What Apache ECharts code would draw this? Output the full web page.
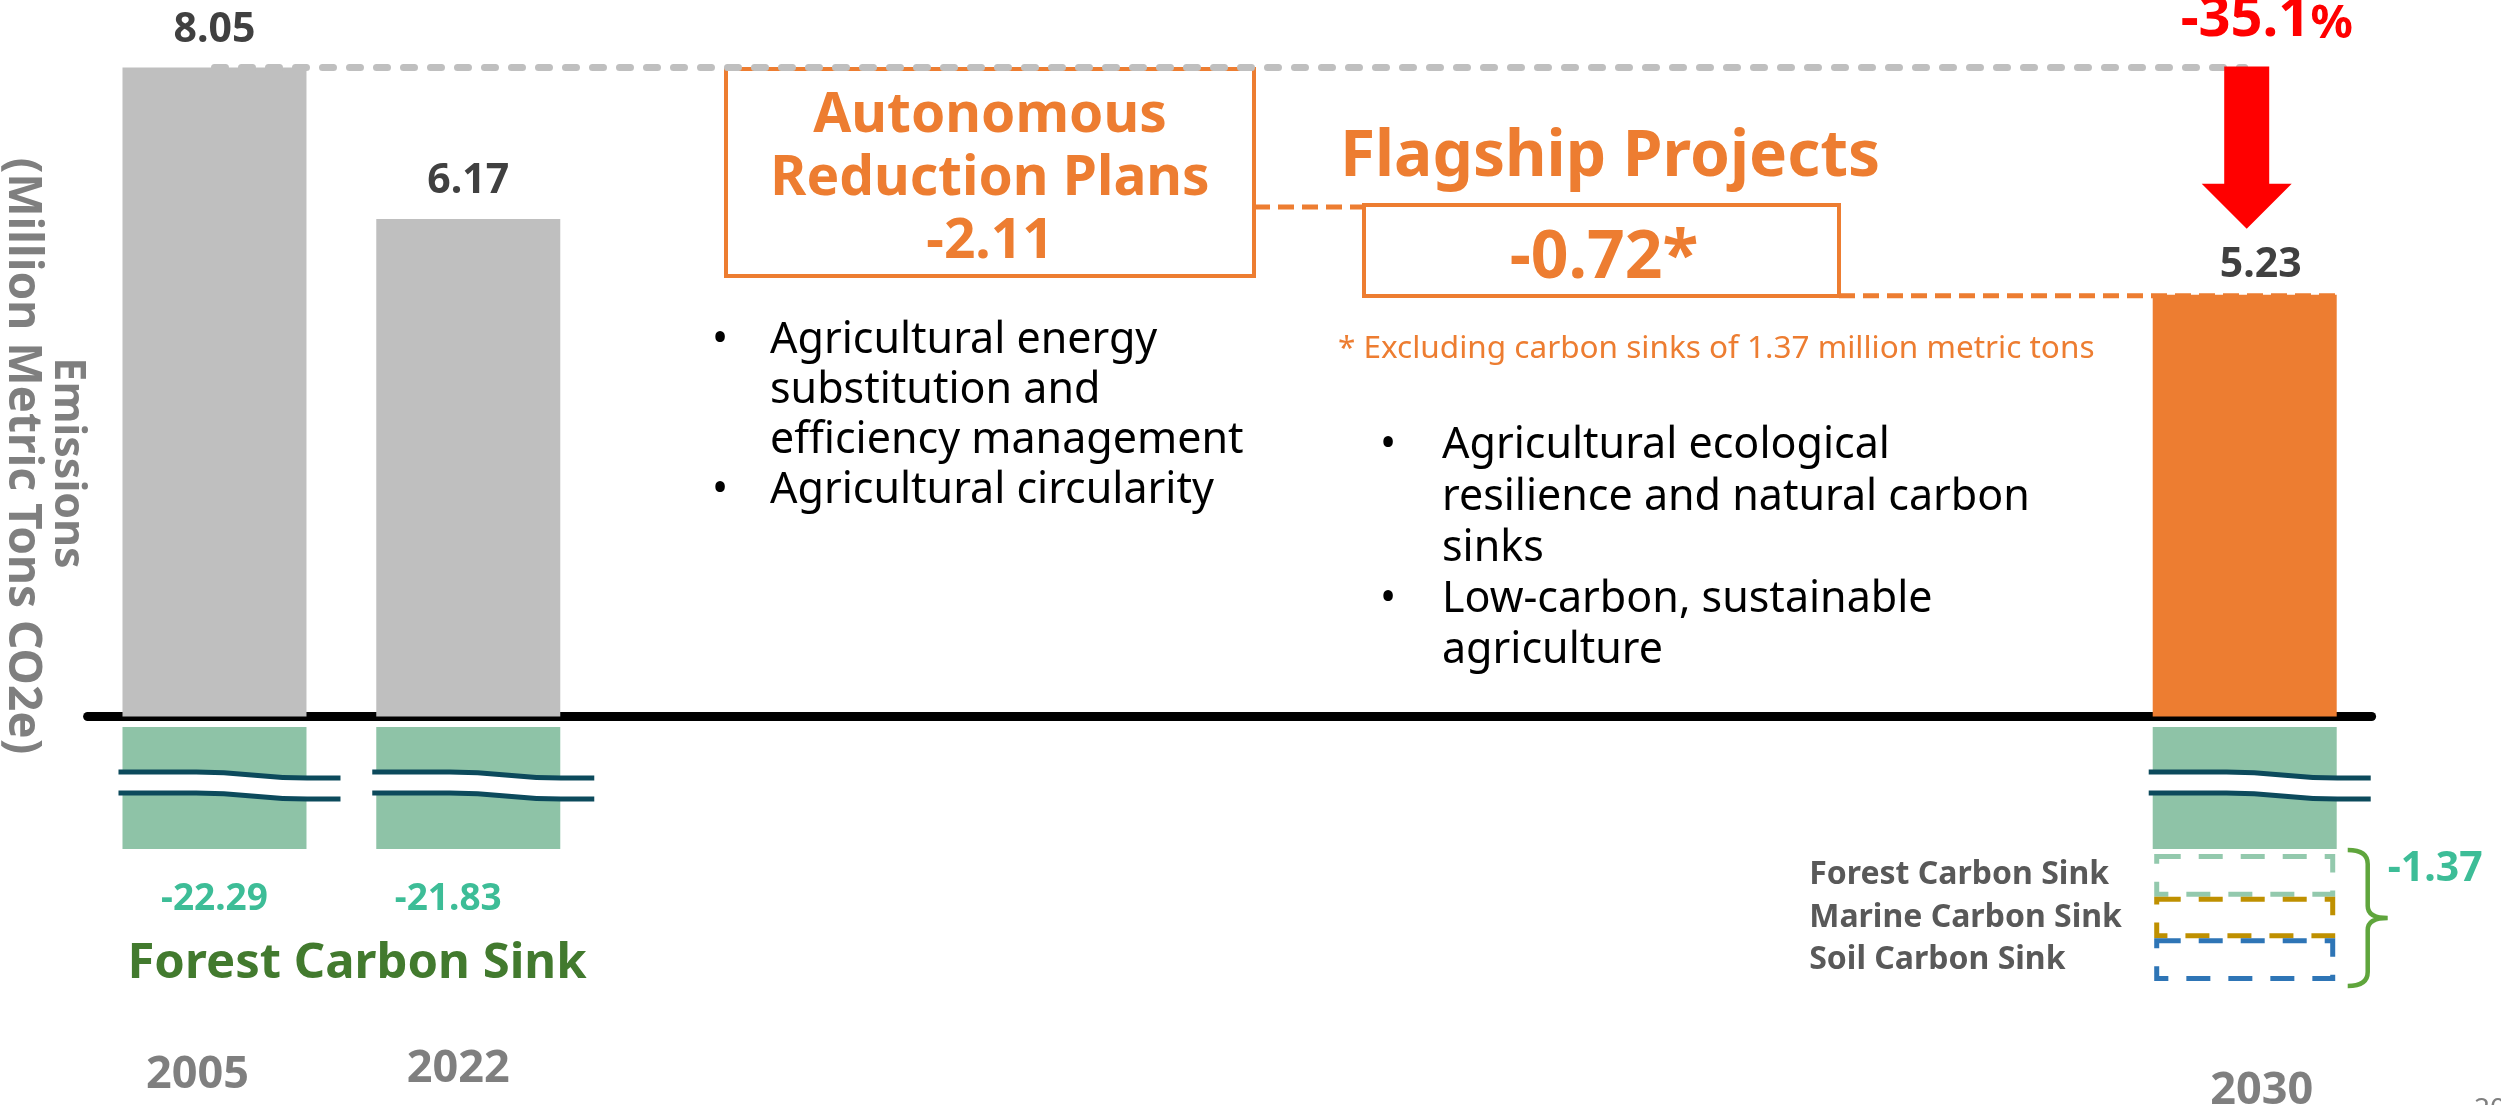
<!DOCTYPE html>
<html>
<head>
<meta charset="utf-8">
<script src="https://cdn.jsdelivr.net/npm/echarts@6/dist/echarts.min.js"></script>
<style>
html,body{margin:0;padding:0;background:#ffffff;}
#chart{width:2501px;height:1105px;}
</style>
</head>
<body>
<div id="chart"></div>
<script>
const FONT = '"Noto Sans", "Open Sans", sans-serif';

// ---------- data ----------
const categories = ['2005', '2022', '', '', '', '', '', '', '2030'];
const emissions = [8.05, 6.17, null, null, null, null, null, null, 5.23];
const forestSink = [-22.29, -21.83, null, null, null, null, null, null, -21.83];
const flagshipSinkNames = ['Forest Carbon Sink', 'Marine Carbon Sink', 'Soil Carbon Sink'];
const flagshipSinkValues = [-0.46, -0.45, -0.46];
const flagshipSinkTotal = -1.37;
const reductionPct = '-35.1';
const autonomousTitle = ['Autonomous', 'Reduction Plans'];
const autonomousValue = '-2.11';
const flagshipTitle = 'Flagship Projects';
const flagshipValue = '-0.72*';
const footnote = '* Excluding carbon sinks of 1.37 million metric tons';
const leftBullets = [['Agricultural energy', 'substitution and', 'efficiency management'], ['Agricultural circularity']];
const rightBullets = [['Agricultural ecological', 'resilience and natural carbon', 'sinks'], ['Low-carbon, sustainable', 'agriculture']];
const yTitle = ['Emissions', '(Million Metric Tons CO2e)'];
const sinkTitle = 'Forest Carbon Sink';
const pageNo = '20';

// ---------- styles ----------
const ORANGE = '#ed7d31';
const GREYBAR = '#bfbfbf';
const GREENBAR = '#8ec3a7';
const TEAL = '#3dbd97';
const sinkBoxColors = ['#93c9ad', '#bf9000', '#2e75b6'];
const sinkLabelOffsets = { 0: 0, 1: -20 };
const yearLabelPadding = { 0: [6, 34, 0, 0], 1: [0, 20, 0, 0], 8: [22, 0, 0, 34] };

const axisData = categories.map((c, i) => c || ('_gap' + i));
const LAST = categories.length - 1;

function wavePath(L, R, y) {
  const w = R - L;
  return `M${L},${y} L${L + 0.35 * w},${y} C${L + 0.6 * w},${y} ${L + 0.6 * w},${y + 6} ${L + 0.85 * w},${y + 6} L${R},${y + 6}`;
}
function bandPath(L, R, y1, y2) {
  const w = R - L;
  return `M${L},${y1} L${L + 0.35 * w},${y1} C${L + 0.6 * w},${y1} ${L + 0.6 * w},${y1 + 6} ${L + 0.85 * w},${y1 + 6} L${R},${y1 + 6} ` +
         `L${R},${y2 + 6} L${L + 0.85 * w},${y2 + 6} C${L + 0.6 * w},${y2 + 6} ${L + 0.6 * w},${y2} ${L + 0.35 * w},${y2} L${L},${y2} Z`;
}

// ---------- graphic (text annotations) ----------
const graphics = [];
graphics.push({ type: 'text', x: 67, y: 463, rotation: -Math.PI / 2,
  style: { text: yTitle[0], font: `bold 43px ${FONT}`, fill: '#7f7f7f', align: 'center', verticalAlign: 'middle' } });
graphics.push({ type: 'text', x: 22, y: 456, rotation: -Math.PI / 2,
  style: { text: yTitle[1], font: `bold 46px ${FONT}`, fill: '#7f7f7f', align: 'center', verticalAlign: 'middle' } });

// autonomous box
graphics.push({ type: 'rect', shape: { x: 726, y: 69, width: 528, height: 207 },
  style: { fill: 'none', stroke: ORANGE, lineWidth: 4 } });
graphics.push({ type: 'text', x: 990, y: 179,
  style: { text: autonomousTitle.concat([autonomousValue]).join('\n'), font: `bold 55px ${FONT}`, fill: ORANGE,
    align: 'center', verticalAlign: 'middle', lineHeight: 63 } });
// connector between boxes
graphics.push({ type: 'line', shape: { x1: 1254, y1: 207, x2: 1364, y2: 207 },
  style: { stroke: ORANGE, lineWidth: 5, lineDash: [16, 8] } });
// flagship
graphics.push({ type: 'text', x: 1610, y: 158,
  style: { text: flagshipTitle, font: `bold 64px ${FONT}`, fill: ORANGE, align: 'center', verticalAlign: 'middle' } });
graphics.push({ type: 'rect', shape: { x: 1364, y: 205, width: 475, height: 91 },
  style: { fill: 'none', stroke: ORANGE, lineWidth: 4 } });
graphics.push({ type: 'text', x: 1604, y: 259,
  style: { text: flagshipValue, font: `bold 66px ${FONT}`, fill: ORANGE, align: 'center', verticalAlign: 'middle' } });
graphics.push({ type: 'text', x: 1338, y: 349,
  style: { text: footnote, font: `31.5px ${FONT}`, fill: ORANGE, align: 'left', verticalAlign: 'middle' } });

function addBullets(list, bx, tx, y0, step) {
  let row = 0;
  list.forEach(item => {
    graphics.push({ type: 'text', x: bx, y: y0 + row * step,
      style: { text: '•', font: `43px ${FONT}`, fill: '#000', align: 'center', verticalAlign: 'middle' } });
    item.forEach(line => {
      graphics.push({ type: 'text', x: tx, y: y0 + row * step,
        style: { text: line, font: `43px ${FONT}`, fill: '#000', align: 'left', verticalAlign: 'middle' } });
      row++;
    });
  });
}
addBullets(leftBullets, 720, 770, 341, 50);
addBullets(rightBullets, 1388, 1442, 446, 51.3);

graphics.push({ type: 'text', x: 357, y: 964,
  style: { text: sinkTitle, font: `bold 49px ${FONT}`, fill: '#427a2e', align: 'center', verticalAlign: 'middle' } });
graphics.push({ type: 'text', x: 2474, y: 1096,
  style: { text: pageNo, font: `28px ${FONT}`, fill: '#7f7f7f', align: 'left', verticalAlign: 'top' } });

// ---------- series ----------
const series = [];

series.push({
  type: 'bar', name: 'Emissions', xAxisIndex: 0, yAxisIndex: 0, barWidth: 184, z: 2,
  data: emissions.map((v, i) => {
    if (v == null) return '-';
    const item = { value: v, itemStyle: { color: i === LAST ? ORANGE : GREYBAR } };
    if (i === LAST) item.label = { distance: 9, offset: [16, 0] };
    return item;
  }),
  label: { show: true, position: 'top', distance: 17, fontFamily: FONT, fontWeight: 'bold', fontSize: 41,
    color: '#404040', formatter: p => Number(p.value).toFixed(2) },
  markLine: {
    silent: true, symbol: ['none', 'none'], label: { show: false },
    lineStyle: { color: GREYBAR, width: 7, type: [11, 16], cap: 'round' },
    emphasis: { disabled: true },
    data: [[{ coord: [0, emissions[0]] }, { coord: [LAST, emissions[0]] }]]
  }
});

// red arrow + percentage
series.push({
  type: 'custom', name: 'change', xAxisIndex: 0, yAxisIndex: 0, clip: false, z: 5,
  data: [[LAST, emissions[0], emissions[LAST]]],
  renderItem(params, api) {
    const top = api.coord([api.value(0), api.value(1)]);
    const bar = api.coord([api.value(0), api.value(2)]);
    const cx = top[0] + 2;
    const tipY = bar[1] - 66, headY = tipY - 45;
    return { type: 'group', children: [
      { type: 'polygon', shape: { points: [[cx - 22.5, top[1] - 1], [cx + 22.5, top[1] - 1], [cx + 22.5, headY], [cx + 45, headY],
          [cx, tipY], [cx - 45, headY], [cx - 22.5, headY]] }, style: { fill: '#ff0000' } },
      { type: 'text', x: cx + 20, y: top[1] - 19,
        style: { text: '{a|' + reductionPct + '}{b|%}', align: 'center', verticalAlign: 'bottom',
          rich: { a: { fontSize: 56, fontWeight: 'bold', fontFamily: FONT, fill: '#ff0000', verticalAlign: 'bottom' },
                  b: { fontSize: 47, fontWeight: 'bold', fontFamily: FONT, fill: '#ff0000', verticalAlign: 'bottom' } } } }
    ] };
  }
});

// orange dashed connector from flagship box to 2030 bar top
series.push({
  type: 'custom', name: 'connector', xAxisIndex: 0, yAxisIndex: 0, clip: false, z: 1,
  data: [[LAST, emissions[LAST]]],
  renderItem(params, api) {
    const p = api.coord([api.value(0), api.value(1)]);
    return { type: 'line', shape: { x1: 1839, y1: p[1] + 1, x2: p[0] + 92, y2: p[1] + 1 },
      style: { stroke: ORANGE, lineWidth: 5, lineDash: [16, 8] } };
  }
});

// forest sinks (broken axis)
series.push({
  type: 'bar', name: 'Forest Carbon Sink', xAxisIndex: 1, yAxisIndex: 1, barWidth: 184,
  data: forestSink.map((v, i) => v == null ? '-' :
    { value: v, label: { offset: [sinkLabelOffsets[i] || 0, 0] } }),
  itemStyle: { color: GREENBAR },
  label: { show: true, position: 'bottom', distance: 32, fontFamily: FONT, fontWeight: 'bold',
    fontSize: 37, color: TEAL, formatter: p => p.dataIndex === LAST ? '' : Number(p.value).toFixed(2) }
});

// break marks
series.push({
  type: 'custom', name: 'breaks', xAxisIndex: 1, yAxisIndex: 1, clip: false, z: 5,
  data: forestSink.map((v, i) => v == null ? null : [i, 0]).filter(d => d),
  renderItem(params, api) {
    const p = api.coord([api.value(0), 0]);
    const L = p[0] - 96, R = p[0] + 126;
    const y1 = p[1] + 45, y2 = p[1] + 66;
    return { type: 'group', children: [
      { type: 'path', shape: { pathData: bandPath(L, R, y1, y2) }, style: { fill: '#ffffff', stroke: null } },
      { type: 'path', shape: { pathData: wavePath(L, R, y1) }, style: { fill: null, stroke: '#0c4a5c', lineWidth: 5 } },
      { type: 'path', shape: { pathData: wavePath(L, R, y2) }, style: { fill: null, stroke: '#0c4a5c', lineWidth: 5 } }
    ] };
  }
});

// flagship carbon sinks (dashed boxes)
flagshipSinkNames.forEach((name, k) => {
  series.push({
    type: 'bar', name, xAxisIndex: 2, yAxisIndex: 2, stack: 'flagship', barWidth: 181,
    data: categories.map((c, i) => i === LAST ? flagshipSinkValues[k] : '-'),
    itemStyle: { color: 'rgba(0,0,0,0)', borderColor: sinkBoxColors[k], borderWidth: 5, borderType: [24, 18] },
    label: { show: true, position: [-345, '50%'], align: 'left', verticalAlign: 'middle', formatter: name,
      fontFamily: FONT, fontWeight: 'bold', fontSize: 32, color: '#595959' }
  });
});

// brace + total
series.push({
  type: 'custom', name: 'brace', xAxisIndex: 2, yAxisIndex: 2, clip: false, z: 5,
  data: [[LAST, flagshipSinkTotal]],
  renderItem(params, api) {
    const t = api.coord([api.value(0), 0]);
    const b = api.coord([api.value(0), api.value(1)]);
    const x0 = t[0] + 103, x1 = t[0] + 123, x2 = t[0] + 143;
    const top = t[1] - 4, bot = b[1] + 5, mid = (top + bot) / 2;
    const d = `M${x0},${top} Q${x1},${top} ${x1},${top + 14} L${x1},${mid - 12} Q${x1},${mid} ${x2},${mid} ` +
              `Q${x1},${mid} ${x1},${mid + 12} L${x1},${bot - 14} Q${x1},${bot} ${x0},${bot}`;
    return { type: 'group', children: [
      { type: 'path', shape: { pathData: d }, style: { fill: null, stroke: '#5fa53c', lineWidth: 4.5 } },
      { type: 'text', x: x2, y: t[1] + 15,
        style: { text: Number(api.value(1)).toFixed(2), fontSize: 41, fontWeight: 'bold', fontFamily: FONT,
          fill: TEAL, align: 'left', verticalAlign: 'middle' } }
    ] };
  }
});

const yearRich = {};
Object.keys(yearLabelPadding).forEach(i => {
  yearRich['y' + i] = { padding: yearLabelPadding[i], fontFamily: FONT, fontWeight: 'bold', fontSize: 45, color: '#7f7f7f' };
});

const gridBase = { left: 87.6, width: 2284, containLabel: false, outerBoundsMode: 'none' };
const option = {
  animation: false,
  backgroundColor: '#ffffff',
  grid: [
    Object.assign({ top: 7, height: 709.5 }, gridBase),
    Object.assign({ top: 727, height: 122 }, gridBase),
    Object.assign({ top: 854, height: 127 }, gridBase)
  ],
  xAxis: [
    { gridIndex: 0, type: 'category', data: axisData,
      axisLine: { show: true, onZero: false, lineStyle: { color: '#000000', width: 9 } },
      axisTick: { show: false }, splitLine: { show: false },
      axisLabel: { show: true, interval: 0, margin: 330, fontFamily: FONT, fontWeight: 'bold', fontSize: 45,
        color: '#7f7f7f', rich: yearRich,
        formatter: (v, idx) => v.startsWith('_gap') ? '' : `{y${idx}|${v}}` } },
    { gridIndex: 1, type: 'category', data: axisData, show: false },
    { gridIndex: 2, type: 'category', data: axisData, show: false }
  ],
  yAxis: [
    { gridIndex: 0, type: 'value', min: 0, max: 8.8, show: false },
    { gridIndex: 1, type: 'value', min: -21.5, max: 0, show: false },
    { gridIndex: 2, type: 'value', min: flagshipSinkTotal, max: 0, show: false }
  ],
  graphic: graphics,
  series
};

const chart = echarts.init(document.getElementById('chart'), null, { renderer: 'canvas' });
chart.setOption(option);
</script>
</body>
</html>
